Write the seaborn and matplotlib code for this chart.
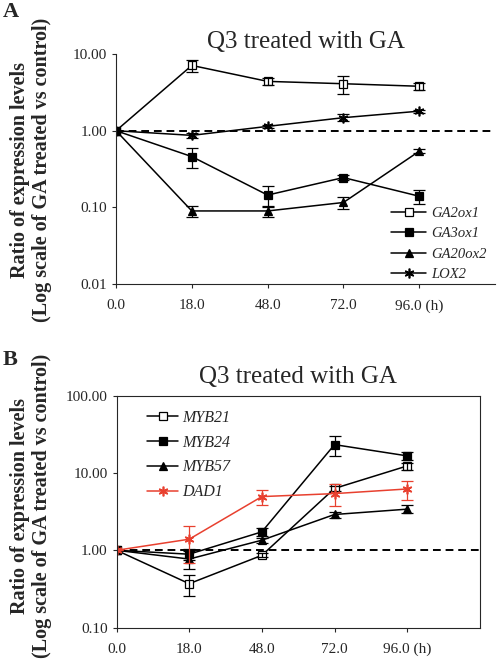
import numpy as np
import pandas as pd
import matplotlib
matplotlib.use('Agg')
import matplotlib.pyplot as plt
import seaborn as sns

# データ
times = ['0.0', '18.0', '48.0', '72.0', '96.0 (h)']

# パネルA
ga2ox1 = [1.0, 7.1, 4.4, 4.1, 3.8]
ga2ox1_err = [0, 1.2, 0.5, 1.1, 0.45]
ga3ox1 = [1.0, 0.46, 0.145, 0.245, 0.14]
ga3ox1_err = [0, 0.13, 0.045, 0.02, 0.03]
ga20ox2 = [1.0, 0.09, 0.09, 0.116, 0.54]
ga20ox2_err = [0, 0.015, 0.015, 0.022, 0.03]
lox2 = [1.0, 0.87, 1.14, 1.48, 1.8]
lox2_err = [0, 0.06, 0.06, 0.15, 0.08]

# パネルB
myb21 = [1.0, 0.37, 0.86, 6.3, 12.3]
myb21_err = [0, 0.11, 0.05, 0.5, 1.3]
myb24 = [1.0, 0.89, 1.73, 23.2, 16.6]
myb24_err = [0, 0.15, 0.2, 6.5, 2.0]
myb57 = [1.0, 0.77, 1.35, 2.9, 3.4]
myb57_err = [0, 0.2, 0.1, 0.25, 0.4]
dad1 = [1.0, 1.39, 4.94, 5.4, 6.2]
dad1_err = [0, 0.7, 1.1, 1.7, 1.7]

ylab1 = 'Ratio of expression levels'
ylab2 = '(Log scale of GA treated vs control)'

sns.set_style('ticks')
plt.rcParams['font.family'] = ['Liberation Serif', 'DejaVu Serif']

fig = plt.figure(figsize=(4.98, 6.67), dpi=100)
axA = fig.add_axes([0.233, 0.574, 0.761, 0.345])
axB = fig.add_axes([0.234, 0.059, 0.7295, 0.348])

x = np.arange(len(times))
star = (6, 2, 0)
red = '#e8402f'


def draw_series(ax, vals, errs, label, marker, face, color='black'):
    df = pd.DataFrame({'t': x, 'v': vals})
    size = 7 if marker == star else 5.2
    sns.lineplot(data=df, x='t', y='v', ax=ax, color=color, lw=1.1,
                 marker=marker, markersize=size, markerfacecolor=face,
                 markeredgecolor=color, markeredgewidth=1.2 if marker == star else 0.9,
                 label=label)
    ax.errorbar(x, vals, yerr=errs, fmt='none', ecolor=color, elinewidth=0.9,
                capsize=4.5, capthick=0.9)


# パネルA
draw_series(axA, ga2ox1, ga2ox1_err, 'GA2ox1', 's', 'white')
draw_series(axA, ga3ox1, ga3ox1_err, 'GA3ox1', 's', 'black')
draw_series(axA, ga20ox2, ga20ox2_err, 'GA20ox2', '^', 'black')
draw_series(axA, lox2, lox2_err, 'LOX2', star, 'black')

# パネルB
draw_series(axB, myb21, myb21_err, 'MYB21', 's', 'white')
draw_series(axB, myb24, myb24_err, 'MYB24', 's', 'black')
draw_series(axB, myb57, myb57_err, 'MYB57', '^', 'black')
draw_series(axB, dad1, dad1_err, 'DAD1', star, red, color=red)

for ax, ylim, tpad in [(axA, (0.01, 10), 4), (axB, (0.1, 100), 9)]:
    ax.axhline(1.0, color='black', ls='--', lw=1.4, dashes=(4, 2.5), zorder=0)
    ax.set_yscale('log')
    ax.set_ylim(*ylim)
    ax.set_xlim(0, 5)
    ax.set_xticks(x)
    ax.set_xticklabels(times, fontsize=11)
    ax.yaxis.set_major_formatter(matplotlib.ticker.FormatStrFormatter('%.2f'))
    ax.yaxis.set_minor_locator(matplotlib.ticker.NullLocator())
    ax.tick_params(axis='y', labelsize=11, length=3, width=0.8)
    ax.tick_params(axis='x', length=3, width=0.8, pad=8)
    ax.set_xlabel('')
    ax.set_ylabel('')
    ax.set_title('Q3 treated with GA', fontsize=18, pad=tpad)
    for s in ax.spines.values():
        s.set_linewidth(0.8)

sns.despine(ax=axA)

axA.legend(loc='lower right', bbox_to_anchor=(1.0, -0.025), frameon=False,
           prop={'style': 'italic', 'size': 10.5}, handlelength=2.4,
           labelspacing=0.5, handletextpad=0.3, borderaxespad=0.2)
axB.legend(loc='upper left', bbox_to_anchor=(0.043, 1.0), frameon=False,
           prop={'style': 'italic', 'size': 11.5}, handlelength=2.0,
           labelspacing=0.55, handletextpad=0.25)

# 縦軸ラベル（2行を別々に配置）
for yc in [0.745, 0.242]:
    fig.text(0.040, yc, ylab1, rotation=90, ha='center', va='center',
             fontsize=14.5, fontweight='bold')
    fig.text(0.085, yc, ylab2, rotation=90, ha='center', va='center',
             fontsize=14.5, fontweight='bold')
fig.text(0.006, 0.997, 'A', fontsize=16, fontweight='bold', va='top')
fig.text(0.006, 0.475, 'B', fontsize=16, fontweight='bold', va='top')

fig.savefig('out.png', dpi=100)
